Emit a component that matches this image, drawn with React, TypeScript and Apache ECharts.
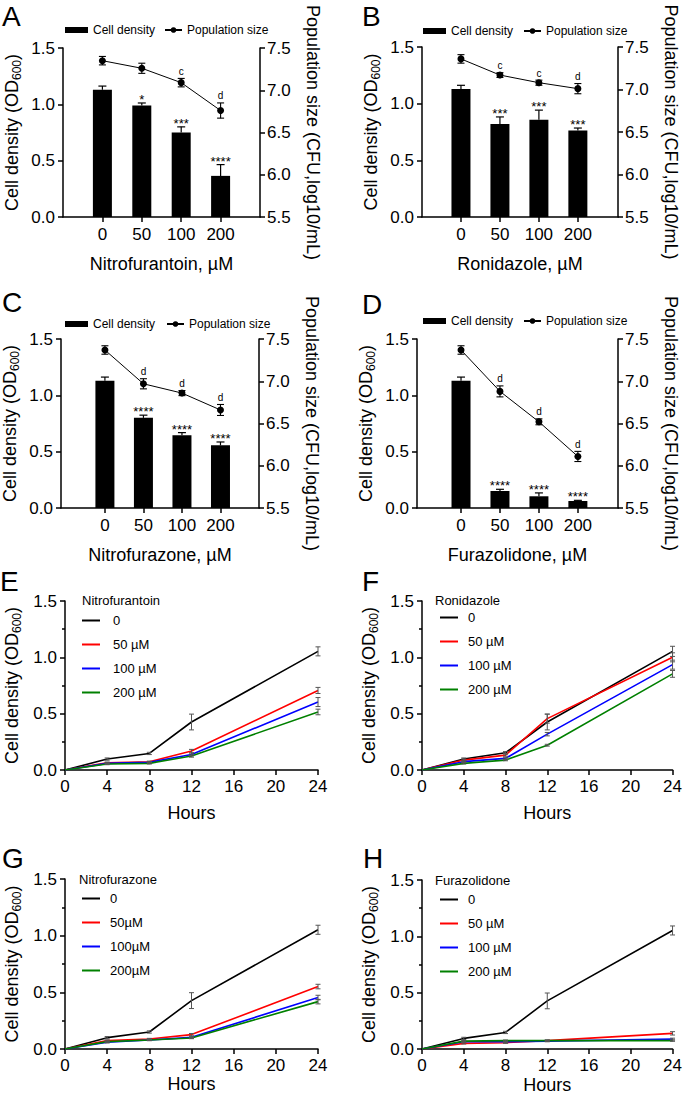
import React, { useEffect, useRef } from 'react';
import * as echarts from 'echarts';

const FONT = '"Liberation Sans", Arial, Helvetica, sans-serif';

// ---------------- Data: panels A-D ----------------
const doseLabels = ['0', '50', '100', '200'];

const densityA = [1.13, 0.99, 0.75, 0.365];
const densityErrA = [0.032, 0.022, 0.05, 0.1];
const starsA = ['', '*', '***', '****'];
const popA = [7.35, 7.26, 7.09, 6.76];
const popErrA = [0.05, 0.06, 0.05, 0.09];
const popSigA = ['', '', 'c', 'd'];

const densityB = [1.13, 0.82, 0.857, 0.764];
const densityErrB = [0.032, 0.063, 0.086, 0.021];
const starsB = ['', '***', '***', '***'];
const popB = [7.36, 7.17, 7.08, 7.01];
const popErrB = [0.05, 0.028, 0.03, 0.06];
const popSigB = ['', 'c', 'c', 'd'];

const densityC = [1.13, 0.8, 0.645, 0.556];
const densityErrC = [0.032, 0.024, 0.024, 0.03];
const starsC = ['', '****', '****', '****'];
const popC = [7.37, 6.97, 6.86, 6.66];
const popErrC = [0.05, 0.06, 0.03, 0.065];
const popSigC = ['', 'd', 'd', 'd'];

const densityD = [1.13, 0.151, 0.104, 0.062];
const densityErrD = [0.032, 0.015, 0.03, 0.006];
const starsD = ['', '****', '****', '****'];
const popD = [7.37, 6.88, 6.52, 6.11];
const popErrD = [0.05, 0.065, 0.035, 0.06];
const popSigD = ['', 'd', 'd', 'd'];

const barDrugs = ['Nitrofurantoin', 'Ronidazole', 'Nitrofurazone', 'Furazolidone'];
const barLetters = ['A', 'B', 'C', 'D'];

// ---------------- Data: panels E-H (growth curves) ----------------
const hours = [0, 4, 8, 12, 24];
const growthDrugs = ['Nitrofurantoin', 'Ronidazole', 'Nitrofurazone', 'Furazolidone'];
const growthLetters = ['E', 'F', 'G', 'H'];
const seriesNamesSpaced = ['0', '50 µM', '100 µM', '200 µM'];
const seriesNamesTight = ['0', '50µM', '100µM', '200µM'];

const eCtrl = [0, 0.097, 0.147, 0.426, 1.053];
const e50 = [0, 0.065, 0.073, 0.168, 0.706];
const e100 = [0, 0.059, 0.068, 0.138, 0.603];
const e200 = [0, 0.053, 0.059, 0.124, 0.515];
const eCtrlErr = [0, 0.01, 0.01, 0.07, 0.04];
const e50Err = [0, 0.006, 0.006, 0.015, 0.027];
const e100Err = [0, 0.006, 0.006, 0.012, 0.04];
const e200Err = [0, 0.006, 0.006, 0.01, 0.025];

const fCtrl = [0, 0.097, 0.153, 0.426, 1.053];
const f50 = [0, 0.088, 0.132, 0.456, 1.0];
const f100 = [0, 0.074, 0.103, 0.318, 0.935];
const f200 = [0, 0.059, 0.088, 0.22, 0.853];
const fCtrlErr = [0, 0.01, 0.01, 0.07, 0.045];
const f50Err = [0, 0.01, 0.01, 0.04, 0.04];
const f100Err = [0, 0.006, 0.006, 0.015, 0.04];
const f200Err = [0, 0.006, 0.006, 0.008, 0.03];

const gCtrl = [0, 0.1, 0.15, 0.427, 1.052];
const g50 = [0, 0.074, 0.088, 0.127, 0.551];
const g100 = [0, 0.059, 0.08, 0.103, 0.454];
const g200 = [0, 0.065, 0.08, 0.097, 0.418];
const gCtrlErr = [0, 0.01, 0.01, 0.07, 0.04];
const g50Err = [0, 0.006, 0.006, 0.01, 0.02];
const g100Err = [0, 0.006, 0.006, 0.006, 0.02];
const g200Err = [0, 0.006, 0.006, 0.006, 0.02];

const hCtrl = [0, 0.094, 0.147, 0.427, 1.052];
const h50 = [0, 0.05, 0.056, 0.074, 0.139];
const h100 = [0, 0.065, 0.065, 0.07, 0.088];
const h200 = [0, 0.07, 0.074, 0.074, 0.074];
const hCtrlErr = [0, 0.01, 0.01, 0.07, 0.04];
const h50Err = [0, 0.006, 0.006, 0.006, 0.015];
const h100Err = [0, 0.006, 0.006, 0.006, 0.008];
const h200Err = [0, 0.006, 0.006, 0.006, 0.006];

const lineColors = ['#000000', '#ff0000', '#0000ff', '#008000'];

// ---------------- Layout (pixels) ----------------
const barLayout = [
  { left: 63, top: 48, width: 197, height: 169, xMin: -1, xMax: 4, letterX: 2, letterY: 2, legTop: 24, leg1: 65, leg2: 164 },
  { left: 422, top: 47, width: 196, height: 170, xMin: -1, xMax: 4.03, letterX: 362, letterY: 2, legTop: 25, leg1: 423, leg2: 523 },
  { left: 57, top: 339, width: 202, height: 169, xMin: -1.14, xMax: 4, letterX: 2, letterY: 288, legTop: 318, leg1: 65, leg2: 166 },
  { left: 417, top: 339, width: 201, height: 169, xMin: -1.13, xMax: 4.03, letterX: 362, letterY: 290, legTop: 315, leg1: 423, leg2: 523 },
];
const lineLayout = [
  { left: 65, top: 601, width: 253, height: 169, letterX: 0, letterY: 567, titleX: 82, titleY: 600, legLeft: 82, legTop: 614, textPad: 8, nameGap: 34 },
  { left: 422, top: 601, width: 253, height: 169, letterX: 362, letterY: 567, titleX: 435, titleY: 600, legLeft: 440, legTop: 611, textPad: 5, nameGap: 34 },
  { left: 65, top: 879, width: 253, height: 170, letterX: 2, letterY: 844, titleX: 79, titleY: 879, legLeft: 82, legTop: 892, textPad: 5, nameGap: 26 },
  { left: 422, top: 880, width: 253, height: 169, letterX: 363, letterY: 844, titleX: 435, titleY: 880, legLeft: 440, legTop: 893, textPad: 5, nameGap: 27 },
];

const odName = '{a|Cell density (OD}{s|600}{a|)}';
const odNameStyle = {
  color: '#000',
  fontFamily: FONT,
  fontSize: 18,
  rich: {
    a: { fontSize: 18, fontFamily: FONT, color: '#000', lineHeight: 22 },
    s: { fontSize: 12, fontFamily: FONT, color: '#000', lineHeight: 12, verticalAlign: 'bottom' },
  },
};

const axisLine = { show: true, onZero: false, lineStyle: { color: '#000', width: 1.5 } };
const tickStyle = { color: '#000', width: 1.5 };
const labelBase = { color: '#000', fontFamily: FONT, fontSize: 17 };

function barErrRender(labels: string[]) {
  return (params: any, api: any) => {
    const x = api.value(0);
    const y = api.value(1);
    const e = api.value(2);
    const base = api.coord([x, y]);
    const top = api.coord([x, y + e]);
    const cap = 4;
    const children: any[] = [
      { type: 'line', shape: { x1: base[0], y1: base[1], x2: top[0], y2: top[1] }, style: { stroke: '#000', lineWidth: 1.2 } },
      { type: 'line', shape: { x1: top[0] - cap, y1: top[1], x2: top[0] + cap, y2: top[1] }, style: { stroke: '#000', lineWidth: 1.2 } },
    ];
    const lab = labels[params.dataIndex];
    if (lab) {
      children.push({
        type: 'text',
        x: top[0],
        y: top[1] + 3,
        style: { text: lab, fill: '#000', fontSize: 13, fontFamily: FONT, align: 'center', verticalAlign: 'bottom', textAlign: 'center', textVerticalAlign: 'bottom' },
      });
    }
    return { type: 'group', children };
  };
}

function pointErrRender(labels: string[], color: string, cap: number, lw: number) {
  return (params: any, api: any) => {
    const x = api.value(0);
    const y = api.value(1);
    const e = api.value(2);
    if (!(e > 0) && !labels[params.dataIndex]) return null;
    const lo = api.coord([x, y - e]);
    const hi = api.coord([x, y + e]);
    const children: any[] = [];
    if (e > 0) {
      children.push(
        { type: 'line', shape: { x1: lo[0], y1: lo[1], x2: hi[0], y2: hi[1] }, style: { stroke: color, lineWidth: lw } },
        { type: 'line', shape: { x1: hi[0] - cap, y1: hi[1], x2: hi[0] + cap, y2: hi[1] }, style: { stroke: color, lineWidth: lw } },
        { type: 'line', shape: { x1: lo[0] - cap, y1: lo[1], x2: lo[0] + cap, y2: lo[1] }, style: { stroke: color, lineWidth: lw } },
      );
    }
    const lab = labels[params.dataIndex];
    if (lab) {
      children.push({
        type: 'text',
        x: hi[0],
        y: hi[1] - 2,
        style: { text: lab, fill: '#000', fontSize: 10, fontFamily: FONT, align: 'center', verticalAlign: 'bottom', textAlign: 'center', textVerticalAlign: 'bottom' },
      });
    }
    return { type: 'group', children };
  };
}

function buildOption() {
  const density = [densityA, densityB, densityC, densityD];
  const densityErr = [densityErrA, densityErrB, densityErrC, densityErrD];
  const stars = [starsA, starsB, starsC, starsD];
  const pop = [popA, popB, popC, popD];
  const popErr = [popErrA, popErrB, popErrC, popErrD];
  const popSig = [popSigA, popSigB, popSigC, popSigD];

  const growth = [
    [eCtrl, e50, e100, e200],
    [fCtrl, f50, f100, f200],
    [gCtrl, g50, g100, g200],
    [hCtrl, h50, h100, h200],
  ];
  const growthErr = [
    [eCtrlErr, e50Err, e100Err, e200Err],
    [fCtrlErr, f50Err, f100Err, f200Err],
    [gCtrlErr, g50Err, g100Err, g200Err],
    [hCtrlErr, h50Err, h100Err, h200Err],
  ];
  const growthNames = [seriesNamesSpaced, seriesNamesSpaced, seriesNamesTight, seriesNamesSpaced];

  const grid: any[] = [];
  const xAxis: any[] = [];
  const yAxis: any[] = [];
  const series: any[] = [];
  const legend: any[] = [];
  const graphic: any[] = [];

  barLayout.forEach((L, i) => {
    grid.push({ left: L.left, top: L.top, width: L.width, height: L.height });
    xAxis.push({
      type: 'value', gridIndex: i, min: L.xMin, max: L.xMax,
      axisLine,
      axisTick: { show: true, customValues: [0, 1, 2, 3], length: 5, lineStyle: tickStyle },
      axisLabel: { ...labelBase, customValues: [0, 1, 2, 3], margin: 9, formatter: (v: number) => doseLabels[Math.round(v)] ?? '' },
      splitLine: { show: false },
      name: `${barDrugs[i]}, µM`, nameLocation: 'middle', nameGap: 38,
      nameTextStyle: { color: '#000', fontFamily: FONT, fontSize: 18 },
    });
    yAxis.push({
      type: 'value', gridIndex: i, position: 'left', min: 0, max: 1.5, interval: 0.5,
      axisLine, axisTick: { show: true, length: 5, lineStyle: tickStyle },
      axisLabel: { ...labelBase, margin: 8, formatter: (v: number) => v.toFixed(1) },
      splitLine: { show: false },
      name: odName, nameLocation: 'middle', nameGap: 40, nameTextStyle: odNameStyle,
    });
    yAxis.push({
      type: 'value', gridIndex: i, position: 'right', min: 5.5, max: 7.5, interval: 0.5,
      axisLine, axisTick: { show: true, length: 5, lineStyle: tickStyle },
      axisLabel: { ...labelBase, margin: 7, formatter: (v: number) => v.toFixed(1) },
      splitLine: { show: false },
      name: 'Population size (CFU,log10/mL)', nameLocation: 'middle', nameGap: 44, nameRotate: -90,
      nameTextStyle: { color: '#000', fontFamily: FONT, fontSize: 18 },
    });
    series.push({
      type: 'bar', name: 'Cell density', xAxisIndex: i, yAxisIndex: 2 * i,
      data: density[i].map((v, k) => [k, v]), barWidth: 19,
      itemStyle: { color: '#000' }, z: 2,
    });
    series.push({
      type: 'custom', name: 'dens-err-' + i, xAxisIndex: i, yAxisIndex: 2 * i,
      encode: { x: 0, y: 1 },
      data: density[i].map((v, k) => [k, v, densityErr[i][k]]),
      renderItem: barErrRender(stars[i]), z: 3, silent: true,
    });
    series.push({
      type: 'line', name: 'Population size', xAxisIndex: i, yAxisIndex: 2 * i + 1,
      data: pop[i].map((v, k) => [k, v]), symbol: 'circle', symbolSize: 7,
      lineStyle: { color: '#000', width: 1 }, itemStyle: { color: '#000' }, color: '#000', z: 5,
    });
    series.push({
      type: 'custom', name: 'pop-err-' + i, xAxisIndex: i, yAxisIndex: 2 * i + 1,
      encode: { x: 0, y: 1 },
      data: pop[i].map((v, k) => [k, v, popErr[i][k]]),
      renderItem: pointErrRender(popSig[i], '#000', 3.5, 1.1), z: 6, silent: true,
    });
    legend.push({
      left: L.leg1, top: L.legTop, padding: 0, selectedMode: false,
      data: [{ name: 'Cell density', icon: 'rect' }], itemWidth: 23, itemHeight: 6,
      textStyle: { color: '#000', fontFamily: FONT, fontSize: 12 },
    });
    legend.push({
      left: L.leg2, top: L.legTop, padding: 0, selectedMode: false,
      data: ['Population size'], itemWidth: 17, itemHeight: 7,
      textStyle: { color: '#000', fontFamily: FONT, fontSize: 12 },
    });
    graphic.push({
      type: 'text', left: L.letterX, top: L.letterY,
      style: { text: barLetters[i], fill: '#000', fontSize: 28, fontFamily: FONT },
    });
  });

  lineLayout.forEach((L, p) => {
    const gi = 4 + p;
    const yi = 8 + p;
    grid.push({ left: L.left, top: L.top, width: L.width, height: L.height });
    xAxis.push({
      type: 'value', gridIndex: gi, min: 0, max: 24, interval: 4,
      axisLine, axisTick: { show: true, length: 5, lineStyle: tickStyle },
      axisLabel: { ...labelBase, margin: 8 },
      splitLine: { show: false },
      name: 'Hours', nameLocation: 'middle', nameGap: L.nameGap,
      nameTextStyle: { color: '#000', fontFamily: FONT, fontSize: 18 },
    });
    yAxis.push({
      type: 'value', gridIndex: gi, min: 0, max: 1.5, interval: 0.5,
      axisLine, axisTick: { show: true, length: 5, lineStyle: tickStyle },
      minorTick: { show: true, splitNumber: 2, length: 3, lineStyle: tickStyle },
      axisLabel: { ...labelBase, margin: 8, formatter: (v: number) => v.toFixed(1) },
      splitLine: { show: false }, minorSplitLine: { show: false },
      name: odName, nameLocation: 'middle', nameGap: 42, nameTextStyle: odNameStyle,
    });
    growth[p].forEach((vals, s) => {
      series.push({
        type: 'line', name: growthNames[p][s], xAxisIndex: gi, yAxisIndex: yi,
        data: hours.map((h, k) => [h, vals[k]]), symbol: 'none',
        lineStyle: { color: lineColors[s], width: 1.6 }, itemStyle: { color: lineColors[s] }, color: lineColors[s], z: 3,
      });
    });
    const errData: any[] = [];
    growth[p].forEach((vals, s) => {
      hours.forEach((h, k) => errData.push([h, vals[k], growthErr[p][s][k]]));
    });
    series.push({
      type: 'custom', name: 'growth-err-' + p, xAxisIndex: gi, yAxisIndex: yi,
      encode: { x: 0, y: 1 }, data: errData,
      renderItem: pointErrRender([], '#555', 2.5, 1), z: 4, silent: true,
    });
    legend.push({
      left: L.legLeft, top: L.legTop, orient: 'vertical', padding: 0, selectedMode: false,
      data: growthNames[p].map((n) => ({ name: n, icon: 'rect' })),
      itemWidth: 18, itemHeight: 2, itemGap: 11,
      textStyle: { color: '#000', fontFamily: FONT, fontSize: 13, padding: [0, 0, 0, L.textPad] },
    });
    graphic.push({
      type: 'text', left: L.letterX, top: L.letterY,
      style: { text: growthLetters[p], fill: '#000', fontSize: 28, fontFamily: FONT },
    });
    graphic.push({
      type: 'text', x: L.titleX, y: L.titleY,
      style: { text: growthDrugs[p], fill: '#000', fontSize: 13, fontFamily: FONT, textVerticalAlign: 'middle', verticalAlign: 'middle' },
    });
  });

  return {
    animation: false,
    backgroundColor: '#fff',
    textStyle: { fontFamily: FONT },
    grid, xAxis, yAxis, series, legend, graphic,
  };
}

export default function App() {
  const ref = useRef<HTMLDivElement>(null);
  useEffect(() => {
    document.body.style.margin = '0';
    const chart = echarts.init(ref.current!, null, { renderer: 'svg' });
    chart.setOption(buildOption() as any);
    return () => chart.dispose();
  }, []);
  return <div ref={ref} style={{ width: 685, height: 1102, background: '#fff' }} />;
}
